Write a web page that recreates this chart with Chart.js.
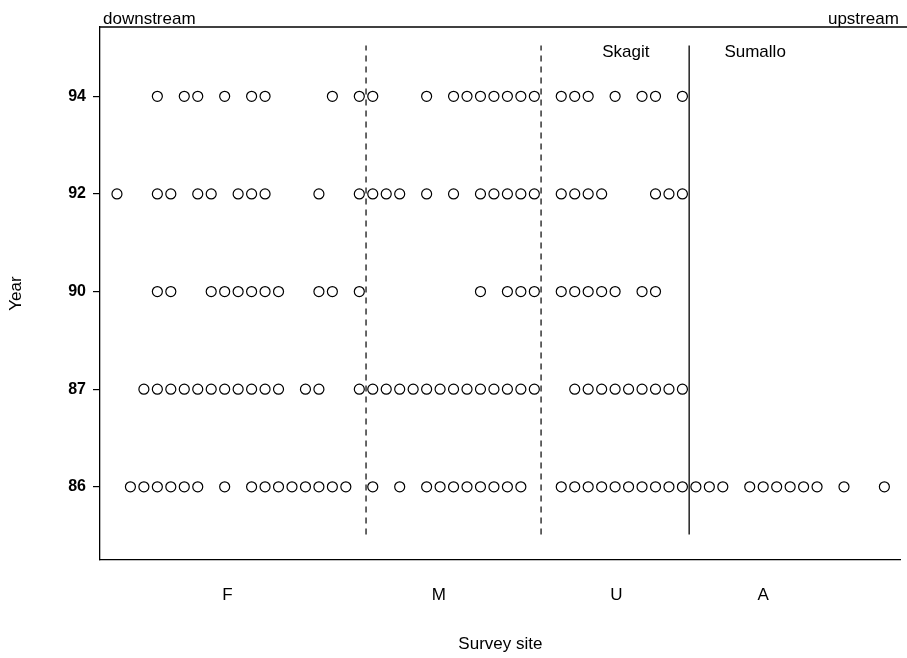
<!DOCTYPE html>
<html>
<head>
<meta charset="utf-8">
<script src="https://cdn.jsdelivr.net/npm/chart.js@4.4.1/dist/chart.umd.min.js"></script>
<style>
    html, body { margin: 0; padding: 0; background: #fff; }
    #wrap { width: 907px; height: 658px; position: relative; }
</style>
</head>
<body>
<div id="wrap"><canvas id="siteChart"></canvas></div>
<script>
// survey years (y categories, bottom to top)
const years = ['86', '87', '90', '92', '94'];

// site numbers (downstream -> upstream) where fish were surveyed each year
const sites86 = [1,2,3,4,5,6,8,10,11,12,13,14,15,16,17,19,21,23,24,25,26,27,28,29,30,
                 33,34,35,36,37,38,39,40,41,42,43,44,45,47,48,49,50,51,52,54,57];
const sites87 = [2,3,4,5,6,7,8,9,10,11,12,14,15,18,19,20,21,22,23,24,25,26,27,28,29,30,31,
                 34,35,36,37,38,39,40,41,42];
const sites90 = [3,4,7,8,9,10,11,12,15,16,18,27,29,30,31,33,34,35,36,37,39,40];
const sites92 = [0,3,4,6,7,9,10,11,15,18,19,20,21,23,25,27,28,29,30,31,33,34,35,36,40,41,42];
const sites94 = [3,5,6,8,10,11,16,18,19,23,25,26,27,28,29,30,31,33,34,35,37,39,40,42];

// boundaries between reaches
const reachBreaks = [18.5, 31.5];   // dashed
const riverBreak = [42.5];          // solid, Skagit | Sumallo

// reach labels on the x axis
const reachNames = ['F', 'M', 'U', 'A'];
const reachCenters = [8.2, 23.9, 37.1, 48.0];

const rivers = ['Skagit', 'Sumallo'];
const riverCenters = [37.8, 47.4];

const allSites = [sites86, sites87, sites90, sites92, sites94];
const FONT = '"Liberation Sans", Arial, sans-serif';

const datasets = allSites.map((sites, k) => ({
    label: years[k],
    data: sites.map(s => ({x: s, y: k})),
    pointStyle: 'circle',
    pointRadius: 5,
    pointBorderWidth: 1.2,
    pointBackgroundColor: 'rgba(255,255,255,0)',
    pointBorderColor: '#000',
    showLine: false
}));

// vertical divider lines
reachBreaks.forEach(b => datasets.push({
    data: [{x: b, y: -0.49}, {x: b, y: 4.52}],
    showLine: true,
    borderColor: '#000',
    borderWidth: 1.2,
    borderDash: [6, 5],
    pointRadius: 0
}));
riverBreak.forEach(b => datasets.push({
    data: [{x: b, y: -0.49}, {x: b, y: 4.52}],
    showLine: true,
    borderColor: '#000',
    borderWidth: 1.3,
    pointRadius: 0
}));

// texts + top frame line
const extraText = {
    id: 'extraText',
    afterDraw(chart) {
        const {ctx, chartArea, scales} = chart;
        ctx.save();
        ctx.strokeStyle = '#000';
        ctx.lineWidth = 1.3;
        ctx.beginPath();
        ctx.moveTo(chartArea.left, chartArea.top);
        ctx.lineTo(chart.width, chartArea.top);
        ctx.stroke();

        ctx.fillStyle = '#000';
        ctx.font = '17px ' + FONT;
        ctx.textBaseline = 'alphabetic';
        ctx.textAlign = 'left';
        ctx.fillText('downstream', chartArea.left + 3, chartArea.top - 3);
        ctx.textAlign = 'right';
        ctx.fillText('upstream', chartArea.right - 2, chartArea.top - 3);

        ctx.textAlign = 'center';
        ctx.textBaseline = 'middle';
        rivers.forEach((r, i) => {
            ctx.fillText(r, scales.x.getPixelForValue(riverCenters[i]), scales.y.getPixelForValue(4.45));
        });
        ctx.restore();
    }
};

new Chart(document.getElementById('siteChart'), {
    type: 'scatter',
    data: { datasets: datasets },
    options: {
        responsive: true,
        maintainAspectRatio: false,
        animation: false,
        events: [],
        layout: { padding: { top: 27, left: 0, right: 0, bottom: 0 } },
        plugins: { legend: { display: false }, tooltip: { enabled: false } },
        scales: {
            x: {
                type: 'linear',
                min: -1.26,
                max: 58.22,
                afterFit: s => { s.height = 98; },
                afterBuildTicks: s => { s.ticks = reachCenters.map(v => ({value: v})); },
                ticks: {
                    callback: (v, i) => reachNames[i],
                    color: '#000',
                    padding: 25,
                    maxRotation: 0,
                    autoSkip: false,
                    font: { family: FONT, size: 17 }
                },
                grid: { display: false, drawTicks: false },
                border: { display: true, color: '#000', width: 1.3 },
                title: {
                    display: true,
                    text: 'Survey site',
                    color: '#000',
                    font: { family: FONT, size: 17 },
                    padding: { top: 0, bottom: 3 }
                }
            },
            y: {
                type: 'linear',
                min: -0.75,
                max: 4.71,
                afterFit: s => { s.width = 100; },
                afterBuildTicks: s => { s.ticks = years.map((y, i) => ({value: i})); },
                ticks: {
                    callback: (v, i) => years[i],
                    color: '#000',
                    padding: 7,
                    font: { family: FONT, size: 16, weight: 'bold' }
                },
                grid: {
                    display: true,
                    drawOnChartArea: false,
                    drawTicks: true,
                    tickLength: 7,
                    color: '#000',
                    lineWidth: 1.2
                },
                border: { display: true, color: '#000', width: 1.3 },
                title: {
                    display: true,
                    text: 'Year',
                    color: '#000',
                    font: { family: FONT, size: 17 },
                    padding: { top: 6, bottom: 0 }
                }
            }
        }
    },
    plugins: [extraText]
});
</script>
</body>
</html>
